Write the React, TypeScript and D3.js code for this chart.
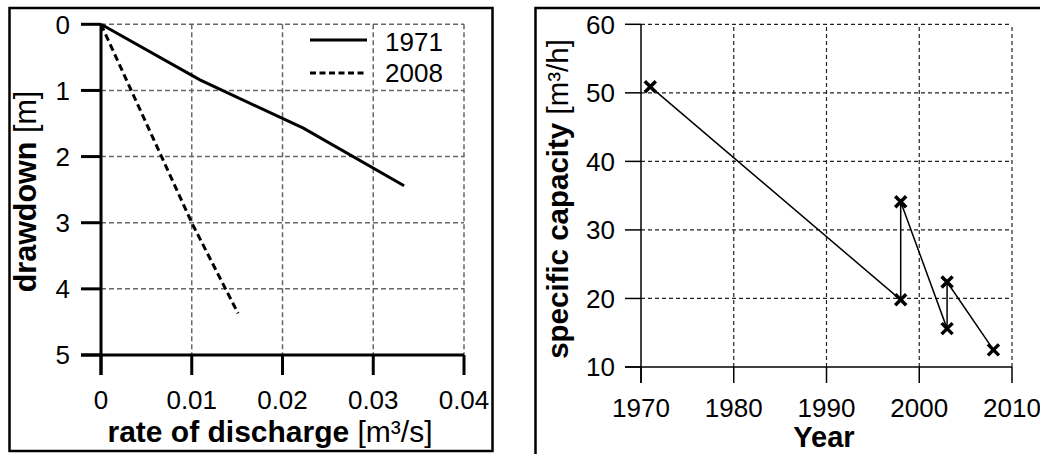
import React from "react";
import * as d3 from "d3";

// Left chart: drawdown vs rate of discharge
const series1971Q = [0, 0.0109, 0.0223, 0.0334];
const series1971S = [0, 0.84, 1.57, 2.44];
const series2008Q = [0, 0.005, 0.01, 0.0151];
const series2008S = [0, 1.5, 3.0, 4.37];
const leftXTicks = [0, 0.01, 0.02, 0.03, 0.04];
const leftXTickLabels = ["0", "0.01", "0.02", "0.03", "0.04"];
const leftYTicks = [0, 1, 2, 3, 4, 5];
const legendLabels = ["1971", "2008"];

// Right chart: specific capacity over years (in drawing order)
const capYears = [1971, 1998, 1998, 2003, 2003, 2008];
const capValues = [50.9, 19.8, 34.1, 15.6, 22.4, 12.5];
const rightXTicks = [1970, 1980, 1990, 2000, 2010];
const rightYTicks = [10, 20, 30, 40, 50, 60];

const FONT = "'Liberation Sans', Arial, Helvetica, sans-serif";

export default function App() {
  const lx = d3.scaleLinear().domain([0, 0.04]).range([101, 464]);
  const ly = d3.scaleLinear().domain([0, 5]).range([24.3, 355]);
  const rx = d3.scaleLinear().domain([1970, 2010]).range([641, 1012]);
  const ry = d3.scaleLinear().domain([10, 60]).range([367, 24.3]);

  const line = d3.line<[number, number]>().x((d) => d[0]).y((d) => d[1]);
  const p1971 = line(series1971Q.map((q, i) => [lx(q), ly(series1971S[i])]))!;
  const p2008 = line(series2008Q.map((q, i) => [lx(q), ly(series2008S[i])]))!;
  const pCap = line(capYears.map((yr, i) => [rx(yr), ry(capValues[i])]))!;

  const gridGray = "#666";

  return (
    <svg
      width={1040}
      height={454}
      style={{ position: "absolute", left: 0, top: 0, background: "#fff" }}
      fontFamily={FONT}
    >
      <rect x={0} y={0} width={1040} height={454} fill="#fff" />
      {/* Frames */}
      <rect x={9.5} y={8} width={483} height={443} fill="none" stroke="#000" strokeWidth={2.5} />
      <rect x={535.5} y={8} width={520} height={460} fill="none" stroke="#000" strokeWidth={2.5} />

      {/* ---------- LEFT CHART ---------- */}
      <g>
        {leftYTicks.slice(0, -1).map((t) => (
          <line key={"lgy" + t} x1={lx(0)} x2={lx(0.04)} y1={ly(t)} y2={ly(t)}
            stroke={gridGray} strokeWidth={1.5} strokeDasharray="5,3" />
        ))}
        {leftXTicks.slice(1).map((t) => (
          <line key={"lgx" + t} x1={lx(t)} x2={lx(t)} y1={ly(0)} y2={ly(5)}
            stroke={gridGray} strokeWidth={1.5} strokeDasharray="5,3" />
        ))}
        <path d={p1971} fill="none" stroke="#000" strokeWidth={3} />
        <path d={p2008} fill="none" stroke="#000" strokeWidth={3} strokeDasharray="7,4" />
        <line x1={lx(0)} x2={lx(0)} y1={ly(0)} y2={ly(5) + 20} stroke="#000" strokeWidth={3} />
        <line x1={lx(0) - 20} x2={lx(0.04)} y1={ly(5)} y2={ly(5)} stroke="#000" strokeWidth={3} />
        {leftYTicks.map((t) => (
          <g key={"lyt" + t}>
            <line x1={lx(0) - 20} x2={lx(0)} y1={ly(t)} y2={ly(t)} stroke="#000" strokeWidth={3} />
            <text x={70} y={ly(t)} dy="0.36em" textAnchor="end" fontSize={26}>{t}</text>
          </g>
        ))}
        {leftXTicks.map((t, i) => (
          <g key={"lxt" + t}>
            <line x1={lx(t)} x2={lx(t)} y1={ly(5)} y2={ly(5) + 20} stroke="#000" strokeWidth={3} />
            <text x={lx(t)} y={409} textAnchor="middle" fontSize={26}>{leftXTickLabels[i]}</text>
          </g>
        ))}
        <line x1={310} x2={367} y1={40} y2={40} stroke="#000" strokeWidth={3} />
        <text x={385} y={51} fontSize={26}>{legendLabels[0]}</text>
        <line x1={310} x2={367} y1={73} y2={73} stroke="#000" strokeWidth={3} strokeDasharray="6,3.5" />
        <text x={385} y={82} fontSize={26}>{legendLabels[1]}</text>
        <text x={270} y={442} textAnchor="middle" fontSize={30}>
          <tspan fontWeight="bold">rate of discharge</tspan>
          <tspan> [m³/s]</tspan>
        </text>
        <text transform={`translate(36,191.5) rotate(-90)`} textAnchor="middle" fontSize={30.5}>
          <tspan fontWeight="bold">drawdown</tspan>
          <tspan> [m]</tspan>
        </text>
      </g>

      {/* ---------- RIGHT CHART ---------- */}
      <g>
        {rightYTicks.slice(1).map((t) => (
          <line key={"rgy" + t} x1={rx(1970)} x2={rx(2010)} y1={ry(t)} y2={ry(t)}
            stroke="#222" strokeWidth={1.2} strokeDasharray="4,3" />
        ))}
        {rightXTicks.slice(1).map((t) => (
          <line key={"rgx" + t} x1={rx(t)} x2={rx(t)} y1={ry(10)} y2={ry(60)}
            stroke="#222" strokeWidth={1.2} strokeDasharray="4,3" />
        ))}
        <path d={pCap} fill="none" stroke="#000" strokeWidth={1.5} />
        {capYears.map((yr, i) => {
          const cx = rx(yr);
          const cy = ry(capValues[i]);
          const s = 5.5;
          return (
            <path key={"m" + i}
              d={`M${cx - s},${cy - s}L${cx + s},${cy + s}M${cx - s},${cy + s}L${cx + s},${cy - s}`}
              stroke="#000" strokeWidth={3.5} fill="none" />
          );
        })}
        <line x1={rx(1970)} x2={rx(1970)} y1={ry(60)} y2={ry(10) + 16} stroke="#000" strokeWidth={1.5} />
        <line x1={rx(1970) - 16} x2={rx(2010)} y1={ry(10)} y2={ry(10)} stroke="#000" strokeWidth={1.5} />
        {rightYTicks.map((t) => (
          <g key={"ryt" + t}>
            <line x1={rx(1970) - 16} x2={rx(1970)} y1={ry(t)} y2={ry(t)} stroke="#000" strokeWidth={1.5} />
            <text x={615} y={ry(t)} dy="0.36em" textAnchor="end" fontSize={26}>{t}</text>
          </g>
        ))}
        {rightXTicks.map((t) => (
          <g key={"rxt" + t}>
            <line x1={rx(t)} x2={rx(t)} y1={ry(10)} y2={ry(10) + 16} stroke="#000" strokeWidth={1.5} />
            <text x={rx(t)} y={417} textAnchor="middle" fontSize={26}>{t}</text>
          </g>
        ))}
        <text x={824} y={447} textAnchor="middle" fontSize={29} fontWeight="bold">Year</text>
        <text transform={`translate(568,199) rotate(-90)`} textAnchor="middle" fontSize={29.5}>
          <tspan fontWeight="bold">specific capacity</tspan>
          <tspan> [m³/h]</tspan>
        </text>
      </g>
    </svg>
  );
}
